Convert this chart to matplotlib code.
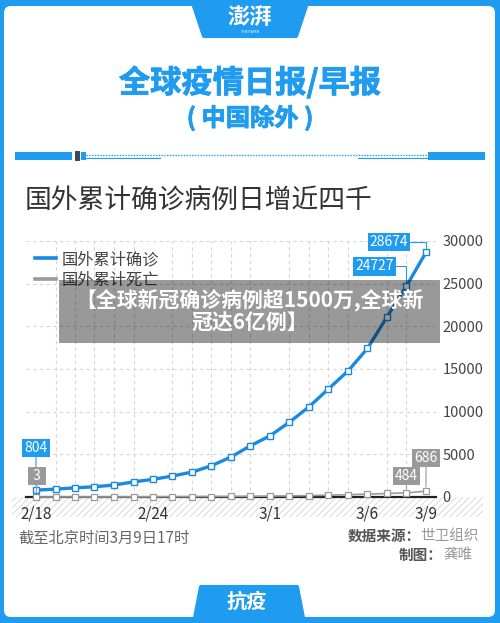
import matplotlib
matplotlib.use("Agg")
import matplotlib.pyplot as plt
import matplotlib.patheffects as pe
from matplotlib.patches import FancyBboxPatch, Polygon, Rectangle
from matplotlib.lines import Line2D

plt.rcParams['font.family'] = ['Noto Sans CJK SC', 'DejaVu Sans']
plt.rcParams['hatch.linewidth'] = 0.6

BLUE = '#1f9bf0'
LINE_BLUE = '#1a8ae0'
GRAY = '#9a9a9a'

# data (WHO, cases outside China)
dates = ['2/18', '2/19', '2/20', '2/21', '2/22', '2/23', '2/24', '2/25', '2/26',
         '2/27', '2/28', '2/29', '3/1', '3/2', '3/3', '3/4', '3/5', '3/6',
         '3/7', '3/8', '3/9']
tick_idx = [0, 6, 12, 17, 20]
confirmed = [804, 924, 1073, 1200, 1402, 1769, 2069, 2459, 2918, 3664, 4691,
             6009, 7169, 8774, 10566, 12668, 14768, 17413, 21110, 24727, 28674]
deaths = [3, 3, 8, 8, 11, 17, 23, 34, 43, 57, 67, 86, 104, 128, 166, 214, 267,
          335, 413, 484, 686]
yticks = [0, 5000, 10000, 15000, 20000, 25000, 30000]
series_names = ['国外累计确诊', '国外累计死亡']

W, H = 500, 623
fig = plt.figure(figsize=(W / 100, H / 100), dpi=100, facecolor=BLUE)

# background / decoration layer in pixel coordinates
bg = fig.add_axes([0, 0, 1, 1])
bg.set_xlim(0, W)
bg.set_ylim(H, 0)
bg.axis('off')

bg.add_patch(FancyBboxPatch((4, 6), 491, 611, boxstyle='round,pad=0,rounding_size=7',
                            fc='white', ec='none'))
bg.add_patch(Polygon([(192, 0), (308, 0), (296, 36), (204, 36)], closed=True,
                     fc=BLUE, ec=BLUE, lw=3, joinstyle='round'))
bg.add_patch(Polygon([(201, 587), (297, 587), (303, 618), (195, 618)], closed=True,
                     fc=BLUE, ec=BLUE, lw=3, joinstyle='round'))
bg.text(250, 18, '澎湃', color='white', fontsize=16, fontweight='bold',
        ha='center', va='center')
bg.text(250, 32, 'THE PAPER', color='white', fontsize=2.5, ha='center', va='center')
bg.text(247, 601, '抗疫', color='white', fontsize=14.5, fontweight='bold',
        ha='center', va='center')

heavy = [pe.withStroke(linewidth=0.6, foreground=BLUE)]
bg.text(250, 83, '全球疫情日报/早报', color=BLUE, fontsize=22.5, fontweight='black',
        ha='center', va='center', path_effects=heavy)
bg.text(250, 118, '( 中国除外 )', color=BLUE, fontsize=17.5, fontweight='black',
        ha='center', va='center', path_effects=heavy)

# decorative rule
bg.add_patch(Rectangle((15, 152), 57, 8, fc=BLUE, ec='none'))
bg.add_patch(Rectangle((428, 152), 57, 8, fc=BLUE, ec='none'))
bg.add_patch(Rectangle((75, 151), 5, 10, fc='#3a4a5c', ec='none'))
bg.add_patch(Rectangle((81, 152), 5, 8, fc=BLUE, ec='none'))
bg.plot([86, 428], [155, 155], color=BLUE, lw=1, ls=(0, (1, 1)))
bg.plot([86, 160], [158, 158], color=BLUE, lw=0.8)
bg.plot([358, 428], [158, 158], color=BLUE, lw=0.8)

bg.text(25, 201, '国外累计确诊病例日增近四千', color='#333333', fontsize=19.3,
        fontweight='medium', ha='left', va='center')

# hatched band under the x axis
bg.add_patch(Rectangle((12, 497), 471, 20, fc='white', ec='#d5d5d5', lw=0,
                       hatch='/////'))

# footer
bg.text(18, 538, '截至北京时间3月9日17时', color='#666666', fontsize=11,
        ha='left', va='center')
bg.text(421, 536, '数据来源：', color='#555555', fontsize=10.5, fontweight='bold',
        ha='right', va='center')
bg.text(479, 536, '世卫组织', color='#999999', fontsize=10.5, ha='right', va='center')
bg.text(443, 555, '制图：', color='#555555', fontsize=10.5, fontweight='bold',
        ha='right', va='center')
bg.text(473, 555, '龚唯', color='#999999', fontsize=10.5, ha='right', va='center')

# chart
x0, x1, y_top, y_bot = 26.25, 435.75, 241, 497
ax = fig.add_axes([x0 / W, (H - y_bot) / H, (x1 - x0) / W, (y_bot - y_top) / H])
ax.patch.set_alpha(0)
x = list(range(len(dates)))

ax.plot(x, deaths, color=GRAY, lw=1.2, marker='s', ms=4.3, mfc='white',
        mec=GRAY, mew=0.9, zorder=4, clip_on=False)
ax.plot(x, confirmed, color=LINE_BLUE, lw=2.4, marker='s', ms=4.5, mfc='white',
        mec=LINE_BLUE, mew=1.0, zorder=5, clip_on=False)

ax.set_xlim(-0.5, len(dates) - 0.5)
ax.set_ylim(0, 30000)
ax.set_xticks(tick_idx)
ax.set_xticklabels([dates[i] for i in tick_idx])
ax.set_xticks(x, minor=True)
ax.set_yticks(yticks)
ax.yaxis.tick_right()
ax.tick_params(axis='x', which='both', length=0, pad=6, labelsize=11,
               labelcolor='#333333')
ax.tick_params(axis='y', length=0, pad=5, labelsize=10.5, labelcolor='#444444')
ax.xaxis.grid(True, which='minor', color='#d6d6d6', lw=0.8, ls=(0, (3, 3)))
ax.yaxis.grid(True, which='major', color='#d6d6d6', lw=0.8, ls=(0, (3, 3)))
ax.set_axisbelow(True)
for side in ['top', 'left', 'right']:
    ax.spines[side].set_visible(False)
ax.spines['bottom'].set_color('#222222')
ax.spines['bottom'].set_linewidth(1.6)

handles = [Line2D([], [], color=LINE_BLUE, lw=2.6), Line2D([], [], color=GRAY, lw=2.6)]
ax.legend(handles, series_names, loc='upper left', bbox_to_anchor=(35, 251),
          bbox_transform=bg.transData, frameon=False, fontsize=11.7,
          handlelength=1.3, handletextpad=0.35, labelspacing=0.2,
          borderpad=0, borderaxespad=0, labelcolor='#444444')


def tag(i, v, dx, dy, color, relpos, conn, z):
    ax.annotate(str(v).center(3), xy=(i, v), xytext=(dx, dy),
                textcoords='offset pixels', ha='center', va='center',
                fontsize=10, color='white', zorder=z,
                bbox=dict(boxstyle='square,pad=0.15', fc=color, ec='none'),
                arrowprops=dict(arrowstyle='-', color=color, lw=0.8, shrinkA=0,
                                shrinkB=3, relpos=relpos, connectionstyle=conn),
                annotation_clip=False)


tag(0, confirmed[0], 0, 42, BLUE, (0.5, 0), 'arc3', 6)
tag(0, deaths[0], 1, 21, GRAY, (0.5, 0), 'arc3', 7)
tag(20, confirmed[-1], -37, 10, BLUE, (1, 0.5), 'angle,angleA=0,angleB=90,rad=0', 6)
tag(19, confirmed[-2], -32, 19.5, BLUE, (1, 0.5), 'angle,angleA=0,angleB=90,rad=0', 6)
tag(20, deaths[-1], 0, 33.5, GRAY, (0.5, 0), 'arc3', 6)
tag(19, deaths[-2], 0, 16.5, GRAY, (0.5, 0), 'arc3', 6)

# semi-transparent headline overlay
ov = fig.add_axes([0, 0, 1, 1])
ov.set_xlim(0, W)
ov.set_ylim(H, 0)
ov.axis('off')
ov.patch.set_alpha(0)
ov.add_patch(Rectangle((59, 280), 381, 63, fc='black', ec='none', alpha=0.4))
ov.text(249.5, 311, '【全球新冠确诊病例超1500万,全球新\n冠达6亿例】', color='white',
        fontsize=15, fontweight='bold', ha='center', va='center', linespacing=1.05)

fig.savefig('out.png', dpi=100, facecolor=BLUE)
